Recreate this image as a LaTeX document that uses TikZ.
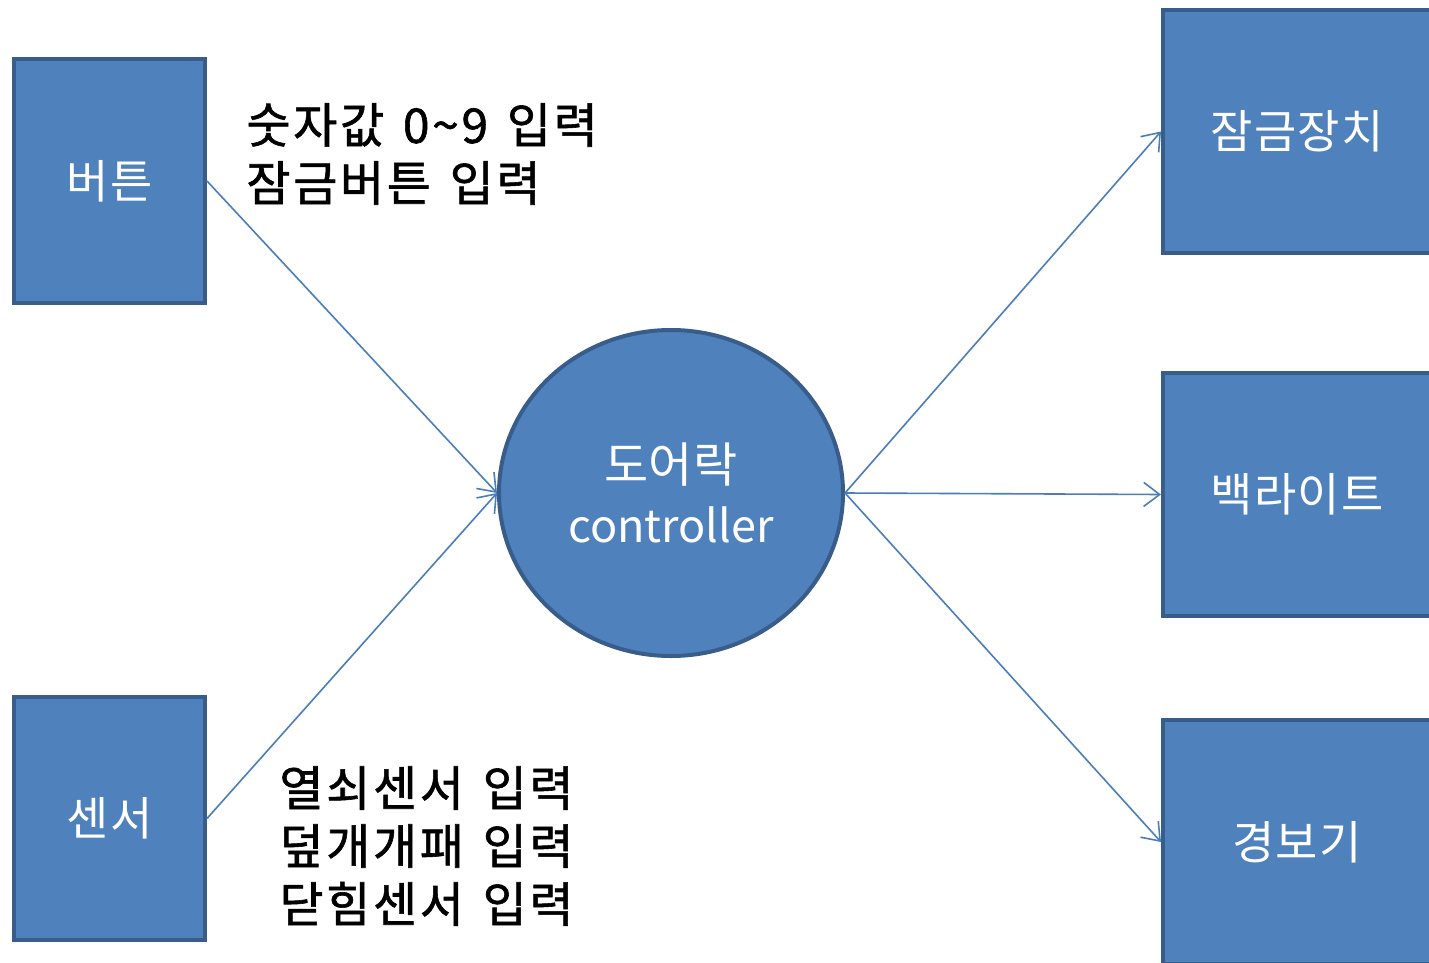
\documentclass[tikz,border=0pt]{standalone}
\usepackage{fontspec}
\setmainfont{Noto Sans CJK KR}
\newfontfamily\lblfont[LetterSpace=5.5,WordSpace=1.4,FakeBold=1.2]{Noto Sans CJK KR}
\newfontfamily\boxfont[LetterSpace=3]{Noto Sans CJK KR}
\usetikzlibrary{shapes.geometric,arrows.meta}
\definecolor{boxfill}{HTML}{4F81BD}
\definecolor{boxdraw}{HTML}{385D8A}
\definecolor{linkcol}{HTML}{4A7EBB}
\tikzset{
  bluebox/.style={draw=boxdraw, fill=boxfill, line width=2pt, rectangle, inner sep=0pt,
    text=white, font=\boxfont\fontsize{23}{28}\selectfont},
  ctrlnode/.style={draw=boxdraw, fill=boxfill, line width=2pt, ellipse, inner sep=0pt,
    minimum width=172pt, minimum height=163pt, text=white, align=center,
    font=\fontsize{24}{30}\selectfont},
  link/.style={draw=linkcol, line width=0.8pt, -{Straight Barb[length=8pt,width=12pt,line width=0.8pt]}},
  lbl/.style={inner sep=0pt, anchor=west, align=left, font=\lblfont\fontsize{24}{29}\selectfont}
}
\begin{document}
\begin{tikzpicture}[x=0.5pt,y=-0.5pt]
\useasboundingbox (0,0) rectangle (1429,963);
\clip (0,0) rectangle (1429,963);
\node[bluebox, minimum width=95.5pt, minimum height=122pt] (btn) at (109.5,181) {버튼};
\node[bluebox, minimum width=95.5pt, minimum height=121.5pt] (sensor) at (109.5,818.5) {센서};
\node[ctrlnode] (ctrl) at (671,493) {도어락\\{\fontsize{22.5}{30}\selectfont controller}};
\node[bluebox, minimum width=134pt, minimum height=121.5pt] (lock) at (1297,131.5) {잠금장치};
\node[bluebox, minimum width=134pt, minimum height=121.5pt] (back) at (1297,494.5) {백라이트};
\node[bluebox, minimum width=134pt, minimum height=122pt] (alarm) at (1297,842) {경보기};
\node[lbl] (txtA) at (246,154) {숫자값 0\textasciitilde9 입력\\잠금버튼 입력};
\node[lbl] (txtB) at (279,846) {열쇠센서 입력\\덮개개패 입력\\닫힘센서 입력};
\draw[link] (btn.east) -- (ctrl.west);
\draw[link] (sensor.east) -- (ctrl.west);
\draw[link] (ctrl.east) -- (lock.west);
\draw[link] (ctrl.east) -- (back.west);
\draw[link] (ctrl.east) -- (alarm.west);
\end{tikzpicture}
\end{document}
